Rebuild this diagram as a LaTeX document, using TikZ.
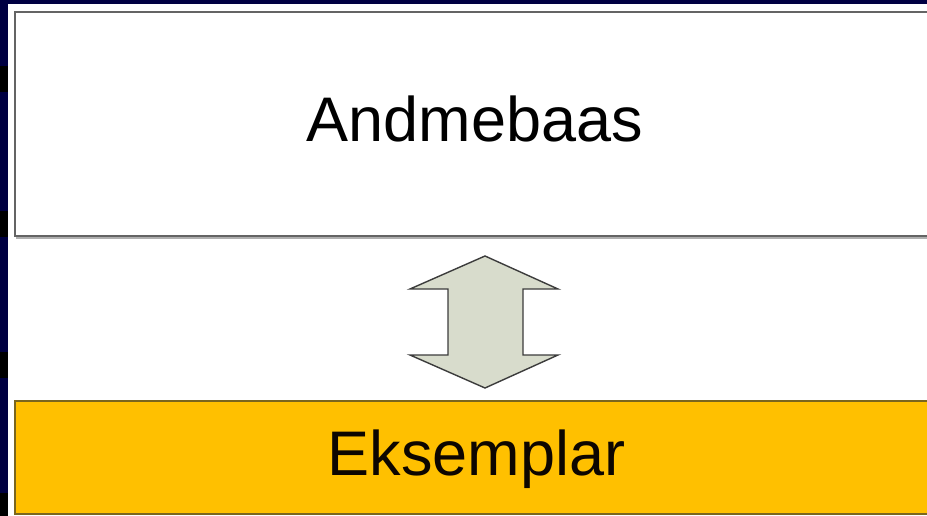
\documentclass[tikz,border=0pt]{standalone}
\usepackage{fontspec}
\setmainfont{Liberation Sans}
\definecolor{navy}{RGB}{0,0,66}
\definecolor{boxgray}{RGB}{100,100,100}
\definecolor{shadowgray}{RGB}{175,175,175}
\definecolor{orangefill}{RGB}{255,192,0}
\definecolor{orangeedge}{RGB}{122,102,30}
\definecolor{arrowfill}{RGB}{216,220,204}
\definecolor{arrowedge}{RGB}{60,60,60}
\tikzset{
  lbl/.style={inner sep=0pt, anchor=base, font=\fontsize{63}{70}\selectfont},
  whitebox/.style={draw=boxgray, line width=2pt, fill=white},
  orangebox/.style={draw=orangeedge, line width=2.2pt, fill=orangefill},
  bigarrow/.style={draw=arrowedge, line width=1.4pt, fill=arrowfill, line join=miter},
}
\begin{document}
\begin{tikzpicture}[x=1pt,y=-1pt]
\useasboundingbox (0,0) rectangle (927,516);
% background
\fill[navy] (0,0) rectangle (927,516);
\fill[black] (0,66) rectangle (8,92);
\fill[black] (0,211) rectangle (8,237);
\fill[black] (0,352) rectangle (8,378);
\fill[black] (0,493) rectangle (8,516);
\fill[white] (8,4) rectangle (927,516);
% boxes
\draw[shadowgray, line width=1.5pt] (17,14) rectangle (946,238);
\draw[whitebox] (15,12) rectangle (945,236);
\draw[orangebox] (15,401) rectangle (945,514);
\node[lbl] (db) at (475,141.7) {Andmebaas};
\node[lbl, text=black!95!orange] (ex) at (476.7,475) {Eksemplar};
% double arrow
\draw[bigarrow] (485,256) -- (558,289) -- (523,289) -- (523,355) -- (558,355)
  -- (485,388) -- (410,355) -- (448,355) -- (448,289) -- (410,289) -- cycle;
\end{tikzpicture}
\end{document}
